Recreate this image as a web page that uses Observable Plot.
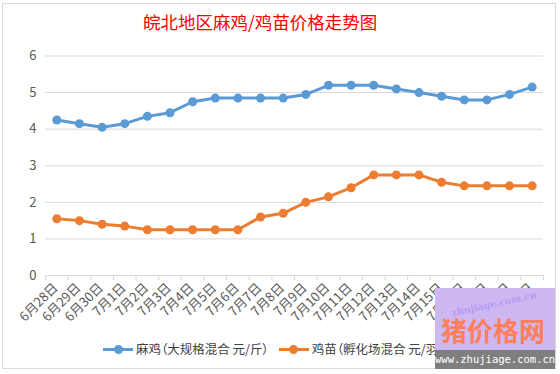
<!DOCTYPE html>
<html>
<head>
<meta charset="utf-8">
<script src="https://cdn.jsdelivr.net/npm/d3@7"></script>
<script src="https://cdn.jsdelivr.net/npm/@observablehq/plot@0.6"></script>
<style>
  html, body { margin: 0; padding: 0; background: #fff; }
  #wrap { position: relative; width: 560px; height: 374px; overflow: hidden; font-family: "Noto Sans CJK SC", "Noto Sans", sans-serif; }
  #frame { position: absolute; left: 2px; top: 3px; width: 554px; height: 366px; border: 1px solid #d9d9d9; box-sizing: border-box; }
  #title { position: absolute; left: 143px; top: 9px; text-align: left; color: #ff0000; font-size: 17.5px; line-height: 26px; white-space: nowrap; }
  #chart { position: absolute; left: 0; top: 0; }
  #legend { position: absolute; top: 340px; left: 103px; display: flex; align-items: center; font-size: 12.5px; color: #404040; line-height: 18px; white-space: nowrap; font-feature-settings: "palt"; }
  .item { display: flex; align-items: center; margin-right: 10px; }
  .sw { position: relative; width: 30px; height: 10px; margin-right: 3px; }
  .sw .ln { position: absolute; left: 0; right: 0; top: 3.5px; height: 3px; }
  .sw .pt { position: absolute; left: 10.5px; top: 0.5px; width: 9px; height: 9px; border-radius: 50%; }
  #wm { position: absolute; left: 435px; top: 288px; width: 120px; height: 62px; background: #cdb8f2; }
  #wm .big { position: absolute; left: 6px; top: 27px; font-size: 26px; font-weight: bold; color: #ff7f5a; line-height: 30px; white-space: nowrap; }
  #wm .faint { position: absolute; left: 16px; top: 10px; font-size: 9.5px; line-height: 12px; font-weight: bold; color: #b59cf0; transform: rotate(-12deg); white-space: nowrap; font-family: "DejaVu Serif", serif; }
  #wmbar { position: absolute; left: 435px; top: 350px; width: 120px; height: 19px; background: #7f7f7f; color: #fff; font-family: "DejaVu Sans Mono", monospace; font-size: 10.5px; line-height: 19px; text-align: center; }
</style>
</head>
<body>
<div id="wrap">
  <div id="frame"></div>
  <div id="chart"></div>
  <div id="title"></div>
  <div id="legend"></div>
  <div id="wm"><div class="faint">zhujiage.com.cn</div><div class="big">猪价格网</div></div>
  <div id="wmbar">www.zhujiage.com.cn</div>
</div>
<script>
const title = "皖北地区麻鸡/鸡苗价格走势图";
const dates = ["6月28日","6月29日","6月30日","7月1日","7月2日","7月3日","7月4日","7月5日","7月6日","7月7日","7月8日","7月9日","7月10日","7月11日","7月12日","7月13日","7月14日","7月15日","7月16日","7月17日","7月18日","7月19日"];
const maji   = [4.25,4.15,4.05,4.15,4.35,4.45,4.75,4.85,4.85,4.85,4.85,4.95,5.2,5.2,5.2,5.1,5.0,4.9,4.8,4.8,4.95,5.15];
const jimiao = [1.55,1.5,1.4,1.35,1.25,1.25,1.25,1.25,1.25,1.6,1.7,2.0,2.15,2.4,2.75,2.75,2.75,2.55,2.45,2.45,2.45,2.45];
const yTicks = [0,1,2,3,4,5,6];
const seriesNames = ["麻鸡（大规格混合 元/斤）","鸡苗（孵化场混合 元/羽）"];
const colors = ["#5b9bd5","#ed7d31"];

document.getElementById("title").textContent = title;

const data = dates.flatMap((d, i) => [
  {date: d, value: maji[i], series: seriesNames[0]},
  {date: d, value: jimiao[i], series: seriesNames[1]}
]);

const W = 560, H = 374, mL = 45, mR = 17;
const step = (W - mL - mR) / dates.length;

const chart = Plot.plot({
  width: W,
  height: H,
  marginLeft: mL,
  marginRight: mR,
  marginTop: 55.5,
  marginBottom: 99,
  style: {fontFamily: "'Noto Sans CJK SC', sans-serif", color: "#595959", background: "transparent"},
  x: {type: "point", domain: dates, padding: 0.5, align: 0.5, round: false, axis: null},
  y: {domain: [0, 6], axis: null},
  color: {domain: seriesNames, range: colors},
  marks: [
    Plot.ruleY(yTicks, {y: d => d, stroke: "#d9d9d9", strokeWidth: 1}),
    Plot.axisY({ticks: yTicks, tickSize: 0, tickPadding: 9, fontSize: 13, fill: "#595959", label: null, tickFormat: d => String(d)}),
    Plot.axisX({tickSize: 5, dx: -step / 2, stroke: "#d9d9d9", label: null, tickFormat: () => ""}),
    Plot.axisX({ticks: [dates[dates.length - 1]], tickSize: 5, dx: step / 2, stroke: "#d9d9d9", label: null, tickFormat: () => ""}),
    Plot.axisX({tickSize: 0, tickRotate: -45, tickPadding: 10, fontSize: 13, fill: "#595959", label: null, dx: -1}),
    Plot.line(data, {x: "date", y: "value", stroke: "series", strokeWidth: 3, strokeLinejoin: "round"}),
    Plot.dot(data, {x: "date", y: "value", fill: "series", r: 4.5})
  ]
});
document.getElementById("chart").appendChild(chart);

const legend = document.getElementById("legend");
seriesNames.forEach((name, i) => {
  const item = document.createElement("div");
  item.className = "item";
  item.innerHTML = `<div class="sw"><div class="ln" style="background:${colors[i]}"></div><div class="pt" style="background:${colors[i]}"></div></div><span></span>`;
  item.querySelector("span").textContent = name;
  legend.appendChild(item);
});
</script>
</body>
</html>
